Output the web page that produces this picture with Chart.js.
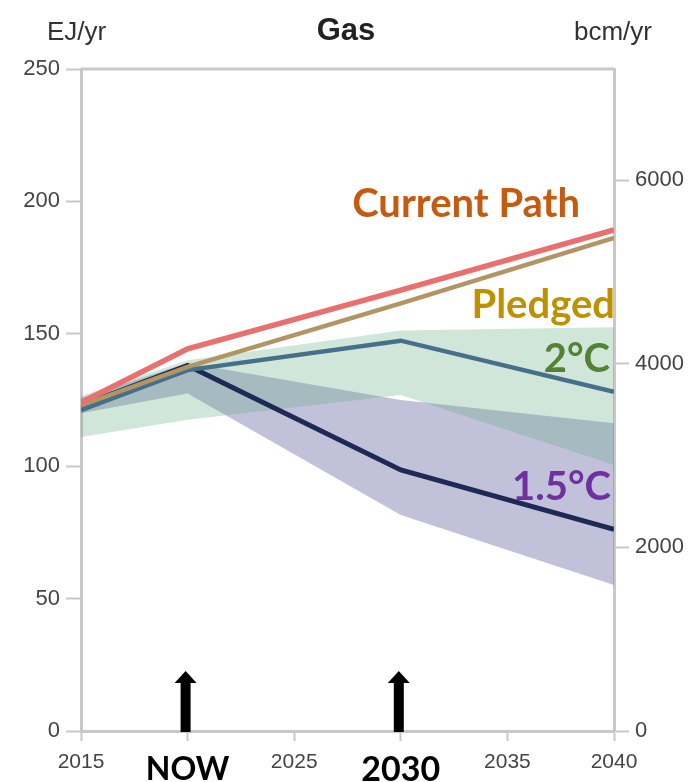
<!DOCTYPE html>
<html>
<head>
<meta charset="utf-8">
<script src="https://cdn.jsdelivr.net/npm/chart.js@4"></script>
<style>
  html, body { margin: 0; padding: 0; background: #fff; }
  canvas { display: block; }
</style>
</head>
<body>
<canvas id="gas" width="698" height="782"></canvas>
<script>
// Gas supply pathways, EJ per year
const years = [2015, 2020, 2030, 2040];
const currentPath = [124, 144.3, 166.5, 189.2];
const pledged = [123, 137.5, 161.5, 186.2];
const twoDegree = [121.2, 136.3, 147.4, 128.1];
const onePointFive = [123, 138, 98.6, 76.2];
const twoDegreeHigh = [126.5, 140, 151.2, 152.5];
const twoDegreeLow = [111, 117.5, 126.9, 100.5];
const onePointFiveHigh = [125.8, 139, 125, 116.2];
const onePointFiveLow = [120, 127.5, 81.6, 55.1];

// Axis ticks
const xTickValues = [2015, 2020, 2025, 2030, 2035, 2040];
const xTickLabels = ['2015', 'NOW', '2025', '2030', '2035', '2040'];
const xBoldTicks = [2020, 2030];
const ejTicks = [0, 50, 100, 150, 200, 250];
const bcmTicks = [0, 2000, 4000, 6000];
const bcmPerEJ = 28.84;

// Markers under the x axis
const arrowYears = [2020, 2030];

// Series labels
const seriesLabels = ['Current Path', 'Pledged', '2°C', '1.5°C'];

const pts = arr => years.map((x, i) => ({ x, y: arr[i] }));

const AXIS = '#c8c8c8';
const TICK_TEXT = '#444';

const bandEdge = {
  borderWidth: 0,
  borderColor: 'rgba(0,0,0,0)',
  pointRadius: 0,
  tension: 0
};
const lineStyle = { pointRadius: 0, tension: 0, fill: false, borderCapStyle: 'butt', borderJoinStyle: 'miter' };

const decorations = {
  id: 'decorations',
  afterDraw(chart) {
    const { ctx, chartArea: a, scales } = chart;
    const xs = scales.x;
    ctx.save();

    // top frame line
    ctx.strokeStyle = AXIS;
    ctx.lineWidth = 3;
    ctx.beginPath();
    ctx.moveTo(a.left, a.top);
    ctx.lineTo(a.right, a.top);
    ctx.stroke();

    // header texts
    ctx.fillStyle = '#333';
    ctx.textBaseline = 'alphabetic';
    ctx.font = '26px "Liberation Sans", Arial, sans-serif';
    ctx.textAlign = 'left';
    ctx.fillText('EJ/yr', 47, 40);
    ctx.fillText('bcm/yr', 574, 40);
    ctx.fillStyle = '#222';
    ctx.font = 'bold 31px "Liberation Sans", Arial, sans-serif';
    ctx.textAlign = 'center';
    ctx.fillText('Gas', 346, 40);

    // up arrows at NOW and 2030
    ctx.fillStyle = '#000';
    arrowYears.forEach(yr => {
      const cx = xs.getPixelForValue(yr) - 2;
      const base = a.bottom + 1;
      const headBase = a.bottom - 48;
      const tip = a.bottom - 60;
      ctx.beginPath();
      ctx.moveTo(cx - 5, base);
      ctx.lineTo(cx - 5, headBase);
      ctx.lineTo(cx - 11, headBase);
      ctx.lineTo(cx, tip);
      ctx.lineTo(cx + 11, headBase);
      ctx.lineTo(cx + 5, headBase);
      ctx.lineTo(cx + 5, base);
      ctx.closePath();
      ctx.fill();
    });

    // series labels
    ctx.font = 'bold 40px Lato, "Open Sans", sans-serif';
    ctx.textAlign = 'right';
    const placements = [
      { color: '#c55a11', dx: -34, y: 217 },
      { color: '#bf9000', dx: 1, y: 318 },
      { color: '#548235', dx: -4, y: 372 },
      { color: '#7030a0', dx: -3, y: 500 }
    ];
    seriesLabels.forEach((t, i) => {
      const p = placements[i];
      ctx.fillStyle = p.color;
      ctx.fillText(t, a.right + p.dx, p.y);
    });

    ctx.restore();
  }
};

new Chart(document.getElementById('gas'), {
  type: 'line',
  data: {
    datasets: [
      { label: '2°C range high', data: pts(twoDegreeHigh), ...bandEdge, fill: 1, backgroundColor: 'rgba(98,172,128,0.30)', order: 5 },
      { label: '2°C range low', data: pts(twoDegreeLow), ...bandEdge, fill: false, order: 7 },
      { label: '1.5°C range high', data: pts(onePointFiveHigh), ...bandEdge, fill: 3, backgroundColor: 'rgba(117,119,173,0.45)', order: 6 },
      { label: '1.5°C range low', data: pts(onePointFiveLow), ...bandEdge, fill: false, order: 8 },
      { label: '1.5°C', data: pts(onePointFive), ...lineStyle, borderColor: '#1e2a55', borderWidth: 5, order: 3 },
      { label: '2°C', data: pts(twoDegree), ...lineStyle, borderColor: '#456f8a', borderWidth: 4.5, order: 2 },
      { label: 'Pledged', data: pts(pledged), ...lineStyle, borderColor: '#b39563', borderWidth: 4.5, order: 1 },
      { label: 'Current Path', data: pts(currentPath), ...lineStyle, borderColor: '#e9706e', borderWidth: 5.5, order: 0 }
    ]
  },
  options: {
    responsive: false,
    animation: false,
    devicePixelRatio: 1,
    layout: { padding: { top: 69, left: 0, right: 0, bottom: 0 } },
    plugins: {
      legend: { display: false },
      tooltip: { enabled: false },
      title: { display: false }
    },
    scales: {
      x: {
        type: 'linear',
        min: 2015,
        max: 2040,
        afterBuildTicks: s => { s.ticks = xTickValues.map(v => ({ value: v })); },
        afterFit: s => { s.height = 51; },
        ticks: {
          autoSkip: false,
          maxRotation: 0,
          padding: 9,
          callback: v => xTickLabels[xTickValues.indexOf(v)],
          color: c => xBoldTicks.includes(c.tick && c.tick.value) ? '#000' : TICK_TEXT,
          font: c => {
            const v = c.tick && c.tick.value;
            if (v === 2020) return { family: 'Lato, sans-serif', weight: 'bold', size: 32 };
            if (v === 2030) return { family: 'Lato, sans-serif', weight: 'bold', size: 34 };
            return { family: '"Liberation Sans", Arial, sans-serif', size: 21 };
          }
        },
        grid: { drawOnChartArea: false, drawTicks: true, tickLength: 10, tickColor: AXIS, tickWidth: 2, color: AXIS },
        border: { display: true, color: AXIS, width: 3 }
      },
      y: {
        position: 'left',
        min: 0,
        max: 250,
        afterBuildTicks: s => { s.ticks = ejTicks.map(v => ({ value: v })); },
        afterFit: s => { s.width = 81; },
        ticks: {
          padding: 6,
          color: TICK_TEXT,
          callback: v => String(v),
          font: { family: '"Liberation Sans", Arial, sans-serif', size: 22 }
        },
        grid: { drawOnChartArea: false, drawTicks: true, tickLength: 15, tickColor: AXIS, tickWidth: 2, color: AXIS },
        border: { display: true, color: AXIS, width: 3 }
      },
      y2: {
        position: 'right',
        display: true,
        min: 0,
        max: 250 * bcmPerEJ,
        afterBuildTicks: s => { s.ticks = bcmTicks.map(v => ({ value: v })); },
        afterFit: s => { s.width = 84; },
        ticks: {
          padding: 6,
          color: TICK_TEXT,
          callback: v => String(v),
          font: { family: '"Liberation Sans", Arial, sans-serif', size: 22 }
        },
        grid: { drawOnChartArea: false, drawTicks: true, tickLength: 15, tickColor: AXIS, tickWidth: 2, color: AXIS },
        border: { display: true, color: AXIS, width: 3 }
      }
    }
  },
  plugins: [decorations]
});
</script>
</body>
</html>
